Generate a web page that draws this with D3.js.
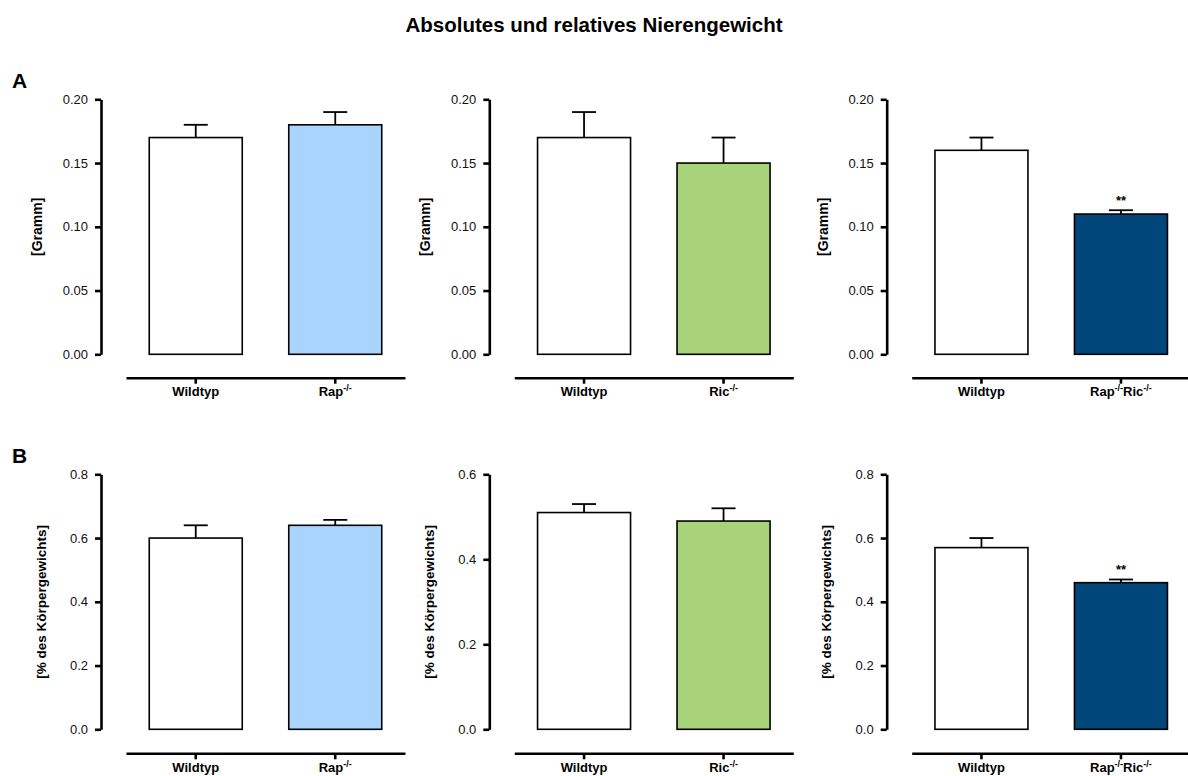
<!DOCTYPE html>
<html>
<head>
<meta charset="utf-8">
<script src="https://cdn.jsdelivr.net/npm/d3@7/dist/d3.min.js"></script>
<style>
  html, body { margin: 0; padding: 0; background: #ffffff; }
  svg { display: block; font-family: Arial, "Liberation Sans", sans-serif; }
</style>
</head>
<body>
<svg id="chart" width="1188" height="776"></svg>
<script>
// Genotype groups per column (base label + superscript parts)
const groupLabels = [
  [["Wildtyp"], ["Rap", "-/-"]],
  [["Wildtyp"], ["Ric", "-/-"]],
  [["Wildtyp"], ["Rap", "-/-", "Ric", "-/-"]]
];
const groupKeys = [["WT", "Rap"], ["WT", "Ric"], ["WT", "RapRic"]];

// Absolute kidney weight [g]: mean and SEM
const absMeans = [[0.17, 0.18], [0.17, 0.15], [0.16, 0.11]];
const absErr   = [[0.01, 0.01], [0.02, 0.02], [0.01, 0.003]];

// Relative kidney weight [% of body weight]: mean and SEM
const relMeans = [[0.60, 0.64], [0.51, 0.49], [0.57, 0.46]];
const relErr   = [[0.04, 0.017], [0.02, 0.03], [0.03, 0.01]];

// Significance marks per bar
const sigMarks = [["", ""], ["", ""], ["", "**"]];

// Y axis maxima and tick values
const absMax = [0.20, 0.20, 0.20];
const absTicks = [0, 0.05, 0.10, 0.15, 0.20];
const relMax = [0.8, 0.6, 0.8];
const relTicks = [[0, 0.2, 0.4, 0.6, 0.8], [0, 0.2, 0.4, 0.6], [0, 0.2, 0.4, 0.6, 0.8]];

const knockoutColors = ["#a8d4fd", "#a9d37b", "#00467a"];

const svg = d3.select("#chart");

svg.append("text")
  .attr("x", 594).attr("y", 32)
  .attr("text-anchor", "middle")
  .attr("font-size", 20.5).attr("font-weight", "bold")
  .text("Absolutes und relatives Nierengewicht");

svg.append("text").attr("x", 12).attr("y", 88)
  .attr("font-size", 21).attr("font-weight", "bold").text("A");
svg.append("text").attr("x", 12).attr("y", 463)
  .attr("font-size", 21).attr("font-weight", "bold").text("B");

const axisX = [101, 489.3, 886.7];
const rows = [
  { top: 99.3, bottom: 354.3, xAxisY: 377.7, means: absMeans, errs: absErr,
    max: absMax, ticks: () => absTicks, fmt: d3.format(".2f"),
    label: "[Gramm]", labelSize: 14, labelOffset: 64 },
  { top: 474.3, bottom: 729.3, xAxisY: 753.3, means: relMeans, errs: relErr,
    max: relMax, ticks: (c) => relTicks[c], fmt: d3.format(".1f"),
    label: "[% des Körpergewichts]", labelSize: 13.5, labelOffset: 60 }
];

rows.forEach(row => {
  [0, 1, 2].forEach(c => {
    const ax = axisX[c];
    const y = d3.scaleLinear().domain([0, row.max[c]]).range([row.bottom, row.top]);
    const x = d3.scaleBand().domain(groupKeys[c]).range([ax + 25, ax + 304]).padding(0);
    const barW = 93;
    const fills = ["#ffffff", knockoutColors[c]];
    const g = svg.append("g");

    // y axis
    const yAxis = g.append("g")
      .attr("transform", `translate(${ax},0)`)
      .call(d3.axisLeft(y).tickValues(row.ticks(c)).tickFormat(row.fmt)
        .tickSize(6).tickSizeOuter(0).tickPadding(7));
    yAxis.select(".domain").attr("stroke", "#000").attr("stroke-width", 2.6);
    yAxis.selectAll(".tick line").attr("stroke", "#000").attr("stroke-width", 2.6);
    yAxis.selectAll(".tick text").attr("font-size", 13).attr("fill", "#111")
      .attr("font-family", 'Arial, "Liberation Sans", sans-serif');

    // y axis title
    g.append("text")
      .attr("transform", `translate(${ax - row.labelOffset},${(row.top + row.bottom) / 2}) rotate(-90)`)
      .attr("text-anchor", "middle")
      .attr("dominant-baseline", "central")
      .attr("font-size", row.labelSize).attr("font-weight", "bold")
      .text(row.label);

    // detached x axis
    const xAxis = g.append("g")
      .attr("transform", `translate(0,${row.xAxisY})`)
      .call(d3.axisBottom(x).tickSize(6).tickSizeOuter(0).tickFormat(""));
    xAxis.select(".domain").attr("stroke", "#000").attr("stroke-width", 2.6);
    xAxis.selectAll(".tick line").attr("stroke", "#000").attr("stroke-width", 2.6);

    groupKeys[c].forEach((k, i) => {
      const parts = groupLabels[c][i];
      const t = g.append("text")
        .attr("x", x(k) + x.bandwidth() / 2)
        .attr("y", row.xAxisY + 18.5)
        .attr("text-anchor", "middle")
        .attr("font-size", 13).attr("font-weight", "bold");
      parts.forEach((p, j) => {
        if (j % 2 === 0) {
          t.append("tspan").attr("dy", j === 0 ? 0 : 5).attr("font-size", 13).text(p);
        } else {
          t.append("tspan").attr("dy", -5).attr("font-size", 9).text(p);
        }
      });
    });

    // bars with upward SEM whiskers
    groupKeys[c].forEach((k, i) => {
      const cx = x(k) + x.bandwidth() / 2;
      const v = row.means[c][i];
      const e = row.errs[c][i];
      g.append("line")
        .attr("x1", cx).attr("x2", cx)
        .attr("y1", y(v)).attr("y2", y(v + e))
        .attr("stroke", "#000").attr("stroke-width", 1.8);
      g.append("line")
        .attr("x1", cx - 12).attr("x2", cx + 12)
        .attr("y1", y(v + e)).attr("y2", y(v + e))
        .attr("stroke", "#000").attr("stroke-width", 1.8);
      g.append("rect")
        .attr("x", cx - barW / 2).attr("width", barW)
        .attr("y", y(v)).attr("height", y(0) - y(v))
        .attr("fill", fills[i]).attr("stroke", "#000").attr("stroke-width", 1.6);
      if (sigMarks[c][i]) {
        g.append("text")
          .attr("x", cx).attr("y", y(v + e) - 5)
          .attr("text-anchor", "middle")
          .attr("font-size", 13).attr("font-weight", "bold")
          .text(sigMarks[c][i]);
      }
    });
  });
});
</script>
</body>
</html>
